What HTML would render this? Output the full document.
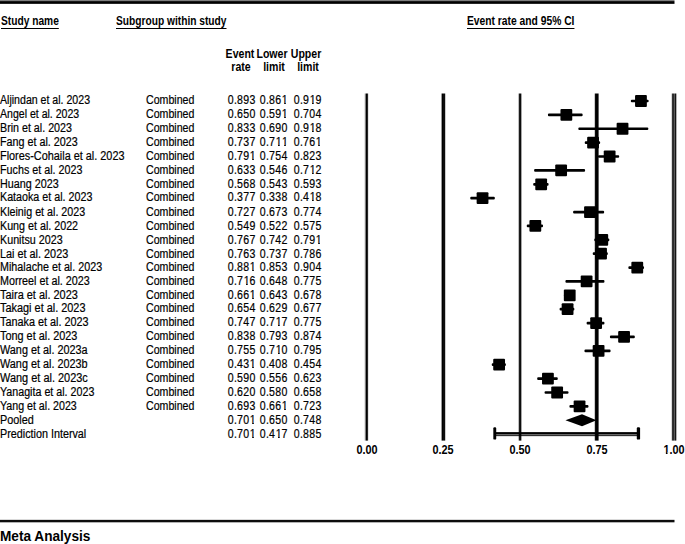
<!DOCTYPE html><html><head><meta charset="utf-8"><style>
*{margin:0;padding:0;box-sizing:border-box}
html,body{width:685px;height:544px;background:#fff;overflow:hidden}
body{position:relative;font-family:"Liberation Sans",sans-serif;color:#000}
.t{position:absolute;white-space:nowrap;line-height:1;font-size:12px;-webkit-text-stroke:0.2px #000}
.b{font-weight:bold;-webkit-text-stroke:0}
.l{transform-origin:0 0}
.r{transform-origin:100% 0}
.c{transform-origin:50% 0}
svg{position:absolute;left:0;top:0}
.o{display:inline-block;position:relative;left:0.045em;clip-path:polygon(-0.2em -0.5em,0.8em -0.5em,0.8em 0.715em,0.372em 0.715em,0.372em 1em,0.22em 1em,0.22em 0.715em,-0.2em 0.715em)}
.ob{display:inline-block;clip-path:polygon(-0.2em -0.5em,0.8em -0.5em,0.8em 0.685em,0.378em 0.685em,0.378em 1em,0.226em 1em,0.226em 0.685em,-0.2em 0.685em)}
</style></head><body><svg width="685" height="544" viewBox="0 0 685 544">
<rect x="0" y="0" width="674.5" height="1" fill="#000" fill-opacity="0.50"/>
<rect x="0" y="1" width="674.5" height="1" fill="#000" fill-opacity="0.90"/>
<rect x="0" y="2" width="674.5" height="1" fill="#000" fill-opacity="1.00"/>
<rect x="0" y="3" width="674.5" height="1" fill="#000" fill-opacity="0.85"/>
<rect x="0" y="519" width="674.5" height="1" fill="#000" fill-opacity="0.15"/>
<rect x="0" y="520" width="674.5" height="1" fill="#000" fill-opacity="0.95"/>
<rect x="0" y="521" width="674.5" height="1" fill="#000" fill-opacity="0.95"/>
<rect x="0" y="522" width="674.5" height="1" fill="#000" fill-opacity="0.30"/>
<rect x="630.83" y="99.65" width="17.81" height="2.70" rx="1" fill="#000"/>
<rect x="635.05" y="95.10" width="11.80" height="11.80" fill="#000" rx="1"/>
<rect x="547.94" y="113.53" width="34.69" height="2.70" rx="1" fill="#000"/>
<rect x="560.45" y="108.98" width="11.80" height="11.80" fill="#000" rx="1"/>
<rect x="578.33" y="127.41" width="70.00" height="2.70" rx="1" fill="#000"/>
<rect x="616.63" y="122.86" width="11.80" height="11.80" fill="#000" rx="1"/>
<rect x="584.78" y="141.29" width="15.35" height="2.70" rx="1" fill="#000"/>
<rect x="587.16" y="136.74" width="11.80" height="11.80" fill="#000" rx="1"/>
<rect x="597.98" y="155.17" width="21.18" height="2.70" rx="1" fill="#000"/>
<rect x="603.74" y="150.62" width="11.80" height="11.80" fill="#000" rx="1"/>
<rect x="534.12" y="169.05" width="50.96" height="2.70" rx="1" fill="#000"/>
<rect x="555.23" y="164.50" width="11.80" height="11.80" fill="#000" rx="1"/>
<rect x="533.20" y="182.93" width="15.35" height="2.70" rx="1" fill="#000"/>
<rect x="535.28" y="178.38" width="11.80" height="11.80" fill="#000" rx="1"/>
<rect x="470.27" y="196.81" width="24.56" height="2.70" rx="1" fill="#000"/>
<rect x="476.64" y="192.26" width="11.80" height="11.80" fill="#000" rx="1"/>
<rect x="573.11" y="210.69" width="31.01" height="2.70" rx="1" fill="#000"/>
<rect x="584.09" y="206.14" width="11.80" height="11.80" fill="#000" rx="1"/>
<rect x="526.75" y="224.57" width="16.27" height="2.70" rx="1" fill="#000"/>
<rect x="529.44" y="220.02" width="11.80" height="11.80" fill="#000" rx="1"/>
<rect x="594.29" y="238.45" width="15.04" height="2.70" rx="1" fill="#000"/>
<rect x="596.37" y="233.90" width="11.80" height="11.80" fill="#000" rx="1"/>
<rect x="592.76" y="252.33" width="15.04" height="2.70" rx="1" fill="#000"/>
<rect x="595.14" y="247.78" width="11.80" height="11.80" fill="#000" rx="1"/>
<rect x="628.37" y="266.21" width="15.66" height="2.70" rx="1" fill="#000"/>
<rect x="631.37" y="261.66" width="11.80" height="11.80" fill="#000" rx="1"/>
<rect x="565.44" y="280.09" width="38.99" height="2.70" rx="1" fill="#000"/>
<rect x="580.71" y="275.54" width="11.80" height="11.80" fill="#000" rx="1"/>
<rect x="563.90" y="293.97" width="10.74" height="2.70" rx="1" fill="#000"/>
<rect x="563.83" y="289.42" width="11.80" height="11.80" fill="#000" rx="1"/>
<rect x="559.60" y="307.85" width="14.74" height="2.70" rx="1" fill="#000"/>
<rect x="561.68" y="303.30" width="11.80" height="11.80" fill="#000" rx="1"/>
<rect x="586.62" y="321.73" width="17.81" height="2.70" rx="1" fill="#000"/>
<rect x="590.23" y="317.18" width="11.80" height="11.80" fill="#000" rx="1"/>
<rect x="609.95" y="335.61" width="24.87" height="2.70" rx="1" fill="#000"/>
<rect x="618.17" y="331.06" width="11.80" height="11.80" fill="#000" rx="1"/>
<rect x="584.47" y="349.49" width="26.10" height="2.70" rx="1" fill="#000"/>
<rect x="592.68" y="344.94" width="11.80" height="11.80" fill="#000" rx="1"/>
<rect x="491.76" y="363.37" width="14.12" height="2.70" rx="1" fill="#000"/>
<rect x="493.22" y="358.82" width="11.80" height="11.80" fill="#000" rx="1"/>
<rect x="537.19" y="377.25" width="20.57" height="2.70" rx="1" fill="#000"/>
<rect x="542.03" y="372.70" width="11.80" height="11.80" fill="#000" rx="1"/>
<rect x="544.56" y="391.13" width="23.95" height="2.70" rx="1" fill="#000"/>
<rect x="551.24" y="386.58" width="11.80" height="11.80" fill="#000" rx="1"/>
<rect x="569.43" y="405.01" width="19.03" height="2.70" rx="1" fill="#000"/>
<rect x="573.65" y="400.46" width="11.80" height="11.80" fill="#000" rx="1"/>
<polygon points="565.45,420.24 582.01,414.34 596.44,420.24 582.01,426.14" fill="#000"/>
<rect x="494.52" y="432.12" width="143.68" height="4" fill="#000"/>
<rect x="494.52" y="434.32" width="143.68" height="1" fill="#999"/>
<rect x="493.32" y="427.3" width="2.90" height="12.3" rx="1.2" fill="#000"/>
<rect x="636.79" y="427.3" width="3.30" height="12.3" rx="1.2" fill="#000"/>
<rect x="364" y="93.5" width="1" height="347.1" fill="#000" fill-opacity="0.10"/>
<rect x="365" y="93.5" width="1" height="347.1" fill="#000" fill-opacity="0.50"/>
<rect x="366" y="93.5" width="1" height="347.1" fill="#000" fill-opacity="1.00"/>
<rect x="367" y="93.5" width="1" height="347.1" fill="#000" fill-opacity="0.85"/>
<rect x="368" y="93.5" width="1" height="347.1" fill="#000" fill-opacity="0.10"/>
<rect x="441" y="93.5" width="1" height="347.1" fill="#000" fill-opacity="0.40"/>
<rect x="442" y="93.5" width="1" height="347.1" fill="#000" fill-opacity="1.00"/>
<rect x="443" y="93.5" width="1" height="347.1" fill="#000" fill-opacity="0.95"/>
<rect x="444" y="93.5" width="1" height="347.1" fill="#000" fill-opacity="0.95"/>
<rect x="445" y="93.5" width="1" height="347.1" fill="#000" fill-opacity="0.20"/>
<rect x="518" y="93.5" width="1" height="347.1" fill="#000" fill-opacity="0.25"/>
<rect x="519" y="93.5" width="1" height="347.1" fill="#000" fill-opacity="0.90"/>
<rect x="520" y="93.5" width="1" height="347.1" fill="#000" fill-opacity="0.95"/>
<rect x="521" y="93.5" width="1" height="347.1" fill="#000" fill-opacity="0.35"/>
<rect x="594" y="93.5" width="1" height="347.1" fill="#000" fill-opacity="0.20"/>
<rect x="595" y="93.5" width="1" height="347.1" fill="#000" fill-opacity="0.95"/>
<rect x="596" y="93.5" width="1" height="347.1" fill="#000" fill-opacity="1.00"/>
<rect x="597" y="93.5" width="1" height="347.1" fill="#000" fill-opacity="1.00"/>
<rect x="598" y="93.5" width="1" height="347.1" fill="#000" fill-opacity="0.60"/>
<rect x="671" y="93.5" width="1" height="347.1" fill="#000" fill-opacity="0.15"/>
<rect x="672" y="93.5" width="1" height="347.1" fill="#000" fill-opacity="0.80"/>
<rect x="673" y="93.5" width="1" height="347.1" fill="#000" fill-opacity="0.83"/>
<rect x="674" y="93.5" width="1" height="347.1" fill="#000" fill-opacity="0.65"/>
<rect x="675" y="93.5" width="1" height="347.1" fill="#000" fill-opacity="0.92"/>
<rect x="676" y="93.5" width="1" height="347.1" fill="#000" fill-opacity="0.30"/>
</svg>
<div class="t l b" style="top:15.04px;left:1.00px;transform:scaleX(0.850);text-decoration:underline;text-underline-offset:3px;text-decoration-skip-ink:none;">Study name</div>
<div class="t l b" style="top:15.04px;left:116.00px;transform:scaleX(0.850);text-decoration:underline;text-underline-offset:3px;text-decoration-skip-ink:none;">Subgroup within study</div>
<div class="t l b" style="top:15.04px;left:466.50px;transform:scaleX(0.857);text-decoration:underline;text-underline-offset:3px;text-decoration-skip-ink:none;">Event rate and 95% CI</div>
<div class="t c b" style="top:47.84px;left:240.20px;width:0;display:flex;justify-content:center;transform:scaleX(0.880);"><span>Event</span></div>
<div class="t c b" style="top:60.84px;left:241.20px;width:0;display:flex;justify-content:center;transform:scaleX(0.880);"><span>rate</span></div>
<div class="t c b" style="top:47.84px;left:271.80px;width:0;display:flex;justify-content:center;transform:scaleX(0.880);"><span>Lower</span></div>
<div class="t c b" style="top:60.84px;left:274.00px;width:0;display:flex;justify-content:center;transform:scaleX(0.880);"><span>limit</span></div>
<div class="t c b" style="top:47.84px;left:306.00px;width:0;display:flex;justify-content:center;transform:scaleX(0.880);"><span>Upper</span></div>
<div class="t c b" style="top:60.84px;left:308.00px;width:0;display:flex;justify-content:center;transform:scaleX(0.880);"><span>limit</span></div>
<div class="t l" style="top:94.34px;left:0.00px;transform:scaleX(0.882);">Aljindan et al. 2023</div>
<div class="t l" style="top:94.34px;left:146.40px;transform:scaleX(0.884);">Combined</div>
<div class="t r" style="top:94.34px;right:429.24px;transform:scaleX(0.880);letter-spacing:0.30px;">0.893</div>
<div class="t r" style="top:94.34px;right:397.64px;transform:scaleX(0.880);letter-spacing:0.30px;">0.86<span class="o">1</span></div>
<div class="t r" style="top:94.34px;right:363.24px;transform:scaleX(0.880);letter-spacing:0.30px;">0.9<span class="o">1</span>9</div>
<div class="t l" style="top:108.34px;left:0.00px;transform:scaleX(0.879);">Angel et al. 2023</div>
<div class="t l" style="top:108.34px;left:146.40px;transform:scaleX(0.884);">Combined</div>
<div class="t r" style="top:108.34px;right:429.24px;transform:scaleX(0.880);letter-spacing:0.30px;">0.650</div>
<div class="t r" style="top:108.34px;right:397.64px;transform:scaleX(0.880);letter-spacing:0.30px;">0.59<span class="o">1</span></div>
<div class="t r" style="top:108.34px;right:363.24px;transform:scaleX(0.880);letter-spacing:0.30px;">0.704</div>
<div class="t l" style="top:122.34px;left:0.00px;transform:scaleX(0.891);">Brin et al. 2023</div>
<div class="t l" style="top:122.34px;left:146.40px;transform:scaleX(0.884);">Combined</div>
<div class="t r" style="top:122.34px;right:429.24px;transform:scaleX(0.880);letter-spacing:0.30px;">0.833</div>
<div class="t r" style="top:122.34px;right:397.64px;transform:scaleX(0.880);letter-spacing:0.30px;">0.690</div>
<div class="t r" style="top:122.34px;right:363.24px;transform:scaleX(0.880);letter-spacing:0.30px;">0.9<span class="o">1</span>8</div>
<div class="t l" style="top:136.34px;left:0.00px;transform:scaleX(0.896);">Fang et al. 2023</div>
<div class="t l" style="top:136.34px;left:146.40px;transform:scaleX(0.884);">Combined</div>
<div class="t r" style="top:136.34px;right:429.24px;transform:scaleX(0.880);letter-spacing:0.30px;">0.737</div>
<div class="t r" style="top:136.34px;right:397.64px;transform:scaleX(0.880);letter-spacing:0.30px;">0.7<span class="o">1</span><span class="o">1</span></div>
<div class="t r" style="top:136.34px;right:363.24px;transform:scaleX(0.880);letter-spacing:0.30px;">0.76<span class="o">1</span></div>
<div class="t l" style="top:150.34px;left:0.00px;transform:scaleX(0.906);">Flores-Cohaila et al. 2023</div>
<div class="t l" style="top:150.34px;left:146.40px;transform:scaleX(0.884);">Combined</div>
<div class="t r" style="top:150.34px;right:429.24px;transform:scaleX(0.880);letter-spacing:0.30px;">0.79<span class="o">1</span></div>
<div class="t r" style="top:150.34px;right:397.64px;transform:scaleX(0.880);letter-spacing:0.30px;">0.754</div>
<div class="t r" style="top:150.34px;right:363.24px;transform:scaleX(0.880);letter-spacing:0.30px;">0.823</div>
<div class="t l" style="top:164.34px;left:0.00px;transform:scaleX(0.895);">Fuchs et al. 2023</div>
<div class="t l" style="top:164.34px;left:146.40px;transform:scaleX(0.884);">Combined</div>
<div class="t r" style="top:164.34px;right:429.24px;transform:scaleX(0.880);letter-spacing:0.30px;">0.633</div>
<div class="t r" style="top:164.34px;right:397.64px;transform:scaleX(0.880);letter-spacing:0.30px;">0.546</div>
<div class="t r" style="top:164.34px;right:363.24px;transform:scaleX(0.880);letter-spacing:0.30px;">0.7<span class="o">1</span>2</div>
<div class="t l" style="top:178.34px;left:0.00px;transform:scaleX(0.897);">Huang 2023</div>
<div class="t l" style="top:178.34px;left:146.40px;transform:scaleX(0.884);">Combined</div>
<div class="t r" style="top:178.34px;right:429.24px;transform:scaleX(0.880);letter-spacing:0.30px;">0.568</div>
<div class="t r" style="top:178.34px;right:397.64px;transform:scaleX(0.880);letter-spacing:0.30px;">0.543</div>
<div class="t r" style="top:178.34px;right:363.24px;transform:scaleX(0.880);letter-spacing:0.30px;">0.593</div>
<div class="t l" style="top:191.34px;left:0.00px;transform:scaleX(0.893);">Kataoka et al. 2023</div>
<div class="t l" style="top:191.34px;left:146.40px;transform:scaleX(0.884);">Combined</div>
<div class="t r" style="top:191.34px;right:429.24px;transform:scaleX(0.880);letter-spacing:0.30px;">0.377</div>
<div class="t r" style="top:191.34px;right:397.64px;transform:scaleX(0.880);letter-spacing:0.30px;">0.338</div>
<div class="t r" style="top:191.34px;right:363.24px;transform:scaleX(0.880);letter-spacing:0.30px;">0.4<span class="o">1</span>8</div>
<div class="t l" style="top:206.34px;left:0.00px;transform:scaleX(0.893);">Kleinig et al. 2023</div>
<div class="t l" style="top:206.34px;left:146.40px;transform:scaleX(0.884);">Combined</div>
<div class="t r" style="top:206.34px;right:429.24px;transform:scaleX(0.880);letter-spacing:0.30px;">0.727</div>
<div class="t r" style="top:206.34px;right:397.64px;transform:scaleX(0.880);letter-spacing:0.30px;">0.673</div>
<div class="t r" style="top:206.34px;right:363.24px;transform:scaleX(0.880);letter-spacing:0.30px;">0.774</div>
<div class="t l" style="top:220.34px;left:0.00px;transform:scaleX(0.893);">Kung et al. 2022</div>
<div class="t l" style="top:220.34px;left:146.40px;transform:scaleX(0.884);">Combined</div>
<div class="t r" style="top:220.34px;right:429.24px;transform:scaleX(0.880);letter-spacing:0.30px;">0.549</div>
<div class="t r" style="top:220.34px;right:397.64px;transform:scaleX(0.880);letter-spacing:0.30px;">0.522</div>
<div class="t r" style="top:220.34px;right:363.24px;transform:scaleX(0.880);letter-spacing:0.30px;">0.575</div>
<div class="t l" style="top:234.34px;left:0.00px;transform:scaleX(0.895);">Kunitsu 2023</div>
<div class="t l" style="top:234.34px;left:146.40px;transform:scaleX(0.884);">Combined</div>
<div class="t r" style="top:234.34px;right:429.24px;transform:scaleX(0.880);letter-spacing:0.30px;">0.767</div>
<div class="t r" style="top:234.34px;right:397.64px;transform:scaleX(0.880);letter-spacing:0.30px;">0.742</div>
<div class="t r" style="top:234.34px;right:363.24px;transform:scaleX(0.880);letter-spacing:0.30px;">0.79<span class="o">1</span></div>
<div class="t l" style="top:248.34px;left:0.00px;transform:scaleX(0.905);">Lai et al. 2023</div>
<div class="t l" style="top:248.34px;left:146.40px;transform:scaleX(0.884);">Combined</div>
<div class="t r" style="top:248.34px;right:429.24px;transform:scaleX(0.880);letter-spacing:0.30px;">0.763</div>
<div class="t r" style="top:248.34px;right:397.64px;transform:scaleX(0.880);letter-spacing:0.30px;">0.737</div>
<div class="t r" style="top:248.34px;right:363.24px;transform:scaleX(0.880);letter-spacing:0.30px;">0.786</div>
<div class="t l" style="top:261.34px;left:0.00px;transform:scaleX(0.895);">Mihalache et al. 2023</div>
<div class="t l" style="top:261.34px;left:146.40px;transform:scaleX(0.884);">Combined</div>
<div class="t r" style="top:261.34px;right:429.24px;transform:scaleX(0.880);letter-spacing:0.30px;">0.88<span class="o">1</span></div>
<div class="t r" style="top:261.34px;right:397.64px;transform:scaleX(0.880);letter-spacing:0.30px;">0.853</div>
<div class="t r" style="top:261.34px;right:363.24px;transform:scaleX(0.880);letter-spacing:0.30px;">0.904</div>
<div class="t l" style="top:275.34px;left:0.00px;transform:scaleX(0.897);">Morreel et al. 2023</div>
<div class="t l" style="top:275.34px;left:146.40px;transform:scaleX(0.884);">Combined</div>
<div class="t r" style="top:275.34px;right:429.24px;transform:scaleX(0.880);letter-spacing:0.30px;">0.7<span class="o">1</span>6</div>
<div class="t r" style="top:275.34px;right:397.64px;transform:scaleX(0.880);letter-spacing:0.30px;">0.648</div>
<div class="t r" style="top:275.34px;right:363.24px;transform:scaleX(0.880);letter-spacing:0.30px;">0.775</div>
<div class="t l" style="top:289.34px;left:0.00px;transform:scaleX(0.912);">Taira et al. 2023</div>
<div class="t l" style="top:289.34px;left:146.40px;transform:scaleX(0.884);">Combined</div>
<div class="t r" style="top:289.34px;right:429.24px;transform:scaleX(0.880);letter-spacing:0.30px;">0.66<span class="o">1</span></div>
<div class="t r" style="top:289.34px;right:397.64px;transform:scaleX(0.880);letter-spacing:0.30px;">0.643</div>
<div class="t r" style="top:289.34px;right:363.24px;transform:scaleX(0.880);letter-spacing:0.30px;">0.678</div>
<div class="t l" style="top:302.34px;left:0.00px;transform:scaleX(0.909);">Takagi et al. 2023</div>
<div class="t l" style="top:302.34px;left:146.40px;transform:scaleX(0.884);">Combined</div>
<div class="t r" style="top:302.34px;right:429.24px;transform:scaleX(0.880);letter-spacing:0.30px;">0.654</div>
<div class="t r" style="top:302.34px;right:397.64px;transform:scaleX(0.880);letter-spacing:0.30px;">0.629</div>
<div class="t r" style="top:302.34px;right:363.24px;transform:scaleX(0.880);letter-spacing:0.30px;">0.677</div>
<div class="t l" style="top:316.34px;left:0.00px;transform:scaleX(0.903);">Tanaka et al. 2023</div>
<div class="t l" style="top:316.34px;left:146.40px;transform:scaleX(0.884);">Combined</div>
<div class="t r" style="top:316.34px;right:429.24px;transform:scaleX(0.880);letter-spacing:0.30px;">0.747</div>
<div class="t r" style="top:316.34px;right:397.64px;transform:scaleX(0.880);letter-spacing:0.30px;">0.7<span class="o">1</span>7</div>
<div class="t r" style="top:316.34px;right:363.24px;transform:scaleX(0.880);letter-spacing:0.30px;">0.775</div>
<div class="t l" style="top:330.34px;left:0.00px;transform:scaleX(0.906);">Tong et al. 2023</div>
<div class="t l" style="top:330.34px;left:146.40px;transform:scaleX(0.884);">Combined</div>
<div class="t r" style="top:330.34px;right:429.24px;transform:scaleX(0.880);letter-spacing:0.30px;">0.838</div>
<div class="t r" style="top:330.34px;right:397.64px;transform:scaleX(0.880);letter-spacing:0.30px;">0.793</div>
<div class="t r" style="top:330.34px;right:363.24px;transform:scaleX(0.880);letter-spacing:0.30px;">0.874</div>
<div class="t l" style="top:344.34px;left:0.00px;transform:scaleX(0.904);">Wang et al. 2023a</div>
<div class="t l" style="top:344.34px;left:146.40px;transform:scaleX(0.884);">Combined</div>
<div class="t r" style="top:344.34px;right:429.24px;transform:scaleX(0.880);letter-spacing:0.30px;">0.755</div>
<div class="t r" style="top:344.34px;right:397.64px;transform:scaleX(0.880);letter-spacing:0.30px;">0.7<span class="o">1</span>0</div>
<div class="t r" style="top:344.34px;right:363.24px;transform:scaleX(0.880);letter-spacing:0.30px;">0.795</div>
<div class="t l" style="top:358.34px;left:0.00px;transform:scaleX(0.904);">Wang et al. 2023b</div>
<div class="t l" style="top:358.34px;left:146.40px;transform:scaleX(0.884);">Combined</div>
<div class="t r" style="top:358.34px;right:429.24px;transform:scaleX(0.880);letter-spacing:0.30px;">0.43<span class="o">1</span></div>
<div class="t r" style="top:358.34px;right:397.64px;transform:scaleX(0.880);letter-spacing:0.30px;">0.408</div>
<div class="t r" style="top:358.34px;right:363.24px;transform:scaleX(0.880);letter-spacing:0.30px;">0.454</div>
<div class="t l" style="top:372.34px;left:0.00px;transform:scaleX(0.912);">Wang et al. 2023c</div>
<div class="t l" style="top:372.34px;left:146.40px;transform:scaleX(0.884);">Combined</div>
<div class="t r" style="top:372.34px;right:429.24px;transform:scaleX(0.880);letter-spacing:0.30px;">0.590</div>
<div class="t r" style="top:372.34px;right:397.64px;transform:scaleX(0.880);letter-spacing:0.30px;">0.556</div>
<div class="t r" style="top:372.34px;right:363.24px;transform:scaleX(0.880);letter-spacing:0.30px;">0.623</div>
<div class="t l" style="top:386.34px;left:0.00px;transform:scaleX(0.891);">Yanagita et al. 2023</div>
<div class="t l" style="top:386.34px;left:146.40px;transform:scaleX(0.884);">Combined</div>
<div class="t r" style="top:386.34px;right:429.24px;transform:scaleX(0.880);letter-spacing:0.30px;">0.620</div>
<div class="t r" style="top:386.34px;right:397.64px;transform:scaleX(0.880);letter-spacing:0.30px;">0.580</div>
<div class="t r" style="top:386.34px;right:363.24px;transform:scaleX(0.880);letter-spacing:0.30px;">0.658</div>
<div class="t l" style="top:400.34px;left:0.00px;transform:scaleX(0.887);">Yang et al. 2023</div>
<div class="t l" style="top:400.34px;left:146.40px;transform:scaleX(0.884);">Combined</div>
<div class="t r" style="top:400.34px;right:429.24px;transform:scaleX(0.880);letter-spacing:0.30px;">0.693</div>
<div class="t r" style="top:400.34px;right:397.64px;transform:scaleX(0.880);letter-spacing:0.30px;">0.66<span class="o">1</span></div>
<div class="t r" style="top:400.34px;right:363.24px;transform:scaleX(0.880);letter-spacing:0.30px;">0.723</div>
<div class="t l" style="top:414.34px;left:0.00px;transform:scaleX(0.903);">Pooled</div>
<div class="t r" style="top:414.34px;right:429.24px;transform:scaleX(0.880);letter-spacing:0.30px;">0.70<span class="o">1</span></div>
<div class="t r" style="top:414.34px;right:397.64px;transform:scaleX(0.880);letter-spacing:0.30px;">0.650</div>
<div class="t r" style="top:414.34px;right:363.24px;transform:scaleX(0.880);letter-spacing:0.30px;">0.748</div>
<div class="t l" style="top:428.34px;left:0.00px;transform:scaleX(0.898);">Prediction Interval</div>
<div class="t r" style="top:428.34px;right:429.24px;transform:scaleX(0.880);letter-spacing:0.30px;">0.70<span class="o">1</span></div>
<div class="t r" style="top:428.34px;right:397.64px;transform:scaleX(0.880);letter-spacing:0.30px;">0.4<span class="o">1</span>7</div>
<div class="t r" style="top:428.34px;right:363.24px;transform:scaleX(0.880);letter-spacing:0.30px;">0.885</div>
<div class="t c b" style="top:443.72px;left:366.50px;width:0;display:flex;justify-content:center;font-size:12.50px;transform:scaleX(0.870);"><span>0.00</span></div>
<div class="t c b" style="top:443.72px;left:443.25px;width:0;display:flex;justify-content:center;font-size:12.50px;transform:scaleX(0.870);"><span>0.25</span></div>
<div class="t c b" style="top:443.72px;left:520.00px;width:0;display:flex;justify-content:center;font-size:12.50px;transform:scaleX(0.870);"><span>0.50</span></div>
<div class="t c b" style="top:443.72px;left:596.75px;width:0;display:flex;justify-content:center;font-size:12.50px;transform:scaleX(0.870);"><span>0.75</span></div>
<div class="t c b" style="top:443.72px;left:673.50px;width:0;display:flex;justify-content:center;font-size:12.50px;transform:scaleX(0.870);"><span><span class="ob">1</span>.00</span></div>
<div class="t l b" style="top:529.13px;left:0.20px;font-size:14.50px;transform:scaleX(0.940);">Meta Analysis</div></body></html>
